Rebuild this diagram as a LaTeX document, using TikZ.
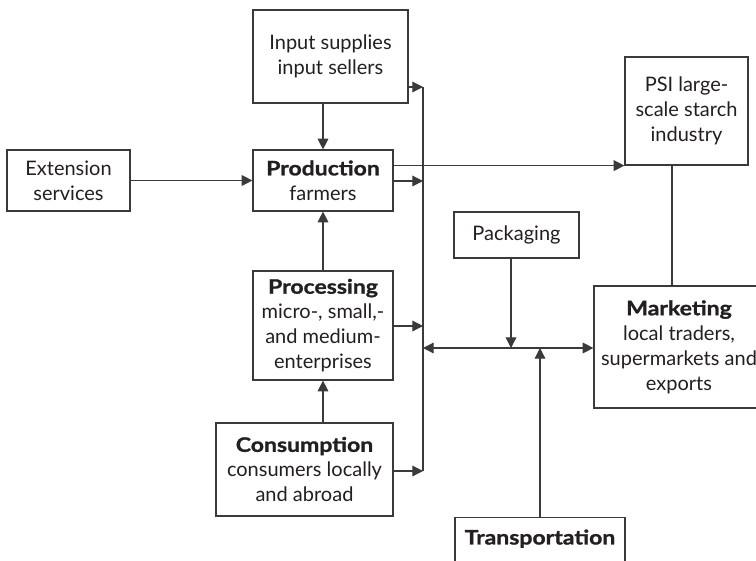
\documentclass[tikz,border=0pt]{standalone}
\usepackage{fontspec}
\setmainfont{Lato}[BoldFeatures={FakeStretch=1.15,FakeBold=1.2}]
\usetikzlibrary{arrows.meta}
\definecolor{ink}{HTML}{231F20}
\definecolor{rule}{HTML}{3A3A3A}
\begin{document}
\begin{tikzpicture}[x=0.75pt,y=-0.75pt,
  box/.style={draw=rule,line width=0.9pt,rectangle,inner sep=0pt,align=center,
    text=ink,font=\fontsize{15}{18.75}\selectfont},
  link/.style={draw=rule,line width=0.9pt},
  arr/.style={link,-{Triangle[length=8pt,width=8pt]}},
  darr/.style={link,{Triangle[length=8pt,width=8pt]}-{Triangle[length=8pt,width=8pt]}}]
\useasboundingbox (0,0) rectangle (756,560);
\clip (0,0) rectangle (756,560);
\fill[white] (0,0) rectangle (756,560);

% boxes
\node[box,minimum width=155*0.75pt,minimum height=93*0.75pt] (inp) at (330.5,56.5) {Input supplies\\input sellers};
\node[box,minimum width=140*0.75pt,minimum height=61*0.75pt] (prod) at (323,180.5) {\textbf{Production}\\farmers};
\node[box,minimum width=123*0.75pt,minimum height=61*0.75pt] (ext) at (68.5,180.5) {Extension\\services};
\node[box,minimum width=140*0.75pt,minimum height=109*0.75pt] (proc) at (323,325.5) {\textbf{Processing}\\micro-, small,-\\and medium-\\enterprises};
\node[box,minimum width=177*0.75pt,minimum height=93*0.75pt] (cons) at (304.5,469.5) {\textbf{Consumption}\\consumers locally\\and abroad};
\node[box,minimum width=123*0.75pt,minimum height=108*0.75pt] (psi) at (686.5,111) {PSI large-\\scale starch\\industry};
\node[box,minimum width=170*0.75pt,minimum height=122*0.75pt] (mkt) at (679,347) {\textbf{Marketing}\\local traders,\\supermarkets and\\exports};
\node[box,minimum width=125*0.75pt,minimum height=46*0.75pt] (pack) at (516.5,235) {Packaging};
\node[box,minimum width=170*0.75pt,anchor=north,inner ysep=9pt,text depth=16pt] (trans) at (540,517) {\textbf{Transportation}};

% junction points on the collecting line and the distribution line
\coordinate (b1) at (423,87);
\coordinate (b2) at (423,181);
\coordinate (b3) at (423,326);
\coordinate (b4) at (423,471);
\coordinate (h1) at (423,348);
\coordinate (hp) at (511,348);
\coordinate (ht) at (540,348);
\coordinate (pm) at (672,0);

% connectors
\draw[arr] (inp.south -| prod.north) -- (prod.north);
\draw[arr] (proc.north) -- (prod.south);
\draw[arr] (cons.north -| proc.south) -- (proc.south);
\draw[arr] (ext.east) -- (prod.west);

\draw[link] (b1) -- (b4);
\draw[arr] (inp.east |- b1) -- (b1);
\draw[arr] (prod.east |- b2) -- (b2);
\draw[arr] (proc.east |- b3) -- (b3);
\draw[arr] (cons.east |- b4) -- (b4);

\draw[arr] (prod.east |- psi.south west) -- (psi.south west);
\draw[link] (psi.south -| pm) -- (mkt.north -| pm);

\draw[darr] (h1) -- (mkt.west |- h1);
\draw[arr] (pack.south -| hp) -- (hp);
\draw[arr] (trans.north) -- (ht);
\end{tikzpicture}
\end{document}
